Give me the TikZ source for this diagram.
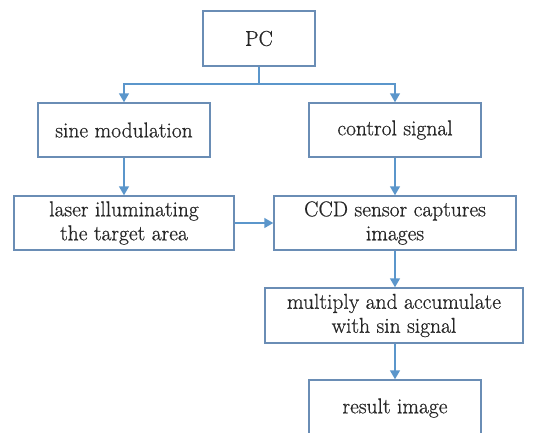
\documentclass[tikz,border=0pt]{standalone}
\usepackage{fontspec}
\newfontfamily\blkfont[FakeBold=0.6]{Latin Modern Roman}
\usetikzlibrary{arrows.meta}
\definecolor{boxc}{HTML}{6A8DB5}
\definecolor{arrc}{HTML}{5B96CB}
\definecolor{txtc}{HTML}{262626}
\begin{document}
\begin{tikzpicture}[x=1pt,y=-1pt,
  blk/.style={draw=boxc,line width=1.5pt,fill=white,text=txtc,align=center,inner sep=0pt,
     font=\blkfont\fontsize{21.5}{24}\selectfont},
  conn/.style={draw=arrc,line width=1.5pt,-{Triangle[length=9pt,width=10pt]}},
  stemline/.style={draw=arrc,line width=1.5pt}]
\clip (0,0) rectangle (538,432);
\fill[white] (0,0) rectangle (538,432);
\node[blk,minimum width=112pt,minimum height=55pt] (pc) at (259,38.5) {PC};
\node[blk,minimum width=172pt,minimum height=54pt] (sine) at (124,130) {sine modulation};
\node[blk,minimum width=172pt,minimum height=54pt] (ctrl) at (395,130) {control signal};
\node[blk,minimum width=220pt,minimum height=54pt] (laser) at (124,223) {laser illuminating\\the target area};
\node[blk,minimum width=242pt,minimum height=54pt] (ccd) at (395,223) {CCD sensor captures\\images};
\node[blk,minimum width=258pt,minimum height=55pt] (mult) at (394,315.5) {multiply and accumulate\\with sin signal};
\node[blk,minimum width=172pt,minimum height=56pt] (res) at (395,408) {result image};
\coordinate (br) at (259,84);
\coordinate (bl) at (124,84);
\coordinate (bc) at (395,84);
\draw[stemline] (pc.south) -- (br);
\draw[conn] (br) -- (bl) -- (sine.north);
\draw[conn] (br) -- (bc) -- (ctrl.north);
\draw[conn] (sine.south) -- (laser.north -| sine.south);
\draw[conn] (ctrl.south) -- (ccd.north -| ctrl.south);
\draw[conn] (laser.east) -- (ccd.west);
\draw[conn] (ccd.south) -- (ccd.south |- mult.north);
\draw[conn] (mult.south -| res.north) -- (res.north);
\end{tikzpicture}
\end{document}
